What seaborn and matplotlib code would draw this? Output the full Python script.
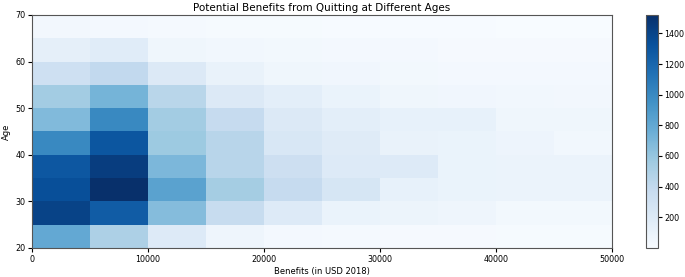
import numpy as np
import pandas as pd
import matplotlib
matplotlib.use("Agg")
import matplotlib.pyplot as plt
import seaborn as sns

# bins: benefits 0-50000 step 5000, age 20-70 step 5
benefit_edges = np.arange(0, 50001, 5000)
age_edges = np.arange(20, 71, 5)

# counts per cell, one list per age bin, one value per benefit bin
age_20_25 = [800, 500, 200, 70, 30, 25, 20, 20, 15, 15]
age_25_30 = [1410, 1260, 660, 370, 200, 100, 85, 70, 40, 40]
age_30_35 = [1340, 1520, 840, 540, 380, 250, 120, 100, 90, 90]
age_35_40 = [1290, 1440, 700, 450, 330, 200, 200, 100, 90, 90]
age_40_45 = [1000, 1300, 570, 450, 240, 185, 110, 95, 80, 50]
age_45_50 = [680, 1000, 550, 380, 210, 150, 120, 120, 60, 60]
age_50_55 = [550, 720, 440, 210, 150, 100, 60, 55, 50, 45]
age_55_60 = [320, 400, 210, 110, 60, 55, 40, 30, 30, 30]
age_60_65 = [140, 175, 60, 50, 40, 35, 30, 20, 20, 20]
age_65_70 = [45, 35, 25, 15, 12, 10, 10, 8, 5, 3]

rows = [age_20_25, age_25_30, age_30_35, age_35_40, age_40_45,
        age_45_50, age_50_55, age_55_60, age_60_65, age_65_70]

x_mid = (benefit_edges[:-1] + benefit_edges[1:]) / 2
y_mid = (age_edges[:-1] + age_edges[1:]) / 2
records = []
for i, row in enumerate(rows):
    for j, c in enumerate(row):
        records.append((x_mid[j], y_mid[i], c))
df = pd.DataFrame(records, columns=["benefits", "age", "count"])

fig = plt.figure(figsize=(6.85, 2.77), dpi=100)
ax = fig.add_axes([0.047, 0.105, 0.846, 0.841])
cax = fig.add_axes([0.943, 0.105, 0.017, 0.841])

sns.histplot(data=df, x="benefits", y="age", weights="count",
             bins=[benefit_edges, age_edges], cmap="Blues",
             cbar=True, cbar_ax=cax, ax=ax)

ax.set_xlim(0, 50000)
ax.set_ylim(20, 70)
ax.set_xticks([0, 10000, 20000, 30000, 40000, 50000])
ax.set_yticks([20, 30, 40, 50, 60, 70])
ax.tick_params(labelsize=5.8, length=3, pad=2)
cax.tick_params(labelsize=5.8, length=3, pad=2)
cax.set_yticks([200, 400, 600, 800, 1000, 1200, 1400])
for a in (ax, cax):
    for s in a.spines.values():
        s.set_color("#555555")
        s.set_linewidth(0.8)
ax.set_title("Potential Benefits from Quitting at Different Ages", fontsize=7.5, pad=3)
ax.set_xlabel("Benefits (in USD 2018)", fontsize=6, labelpad=2)
ax.set_ylabel("Age", fontsize=6, labelpad=3)

fig.savefig("out.png", dpi=100)
plt.close(fig)
